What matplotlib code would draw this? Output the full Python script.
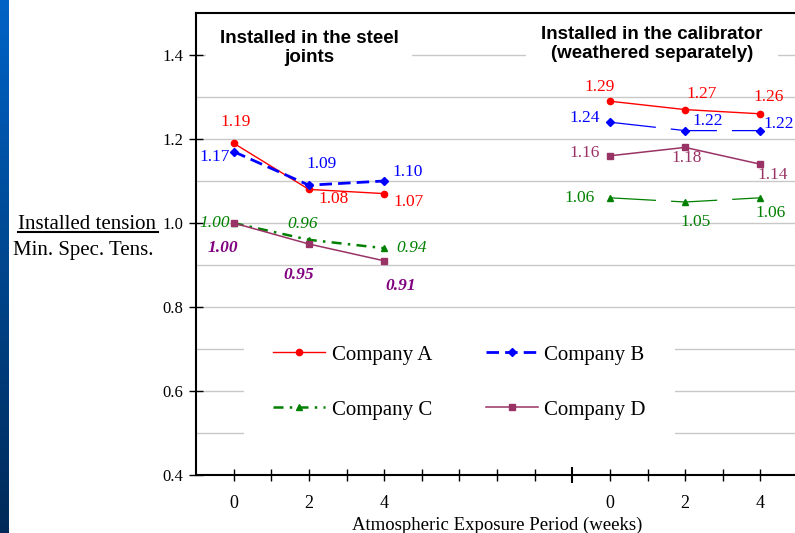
import numpy as np
import matplotlib.pyplot as plt

plt.rcParams['font.family'] = 'Liberation Serif'

# exposure period (weeks) for both groups
weeks = [0, 2, 4]
group_start = [1, 11]          # category slot of week 0 in each group

# installed in the steel joints
joint_A = [1.19, 1.08, 1.07]
joint_B = [1.17, 1.09, 1.10]
joint_C = [1.00, 0.96, 0.94]
joint_D = [1.00, 0.95, 0.91]

# installed in the calibrator (weathered separately)
calib_A = [1.29, 1.27, 1.26]
calib_B = [1.24, 1.22, 1.22]
calib_C = [1.06, 1.05, 1.06]
calib_D = [1.16, 1.18, 1.14]

companies = ['Company A', 'Company B', 'Company C', 'Company D']
yticks = [0.4, 0.6, 0.8, 1.0, 1.2, 1.4]

fig = plt.figure(figsize=(7.95, 5.33), dpi=100)

# blue slide edge on the left
bar = fig.add_axes([0, 0, 9/795, 1])
grad = np.linspace(0, 1, 256).reshape(-1, 1)
bar.imshow(grad, aspect='auto', cmap=plt.matplotlib.colors.LinearSegmentedColormap.from_list(
    'edge', ['#0063c6', '#00468e', '#002a58']))
bar.axis('off')

ax = fig.add_axes([196/795, 1 - 475/533, 602/795, 462/533])
ax.set_xlim(0, 16)
ax.set_ylim(0.4, 1.5)

xl = [w + group_start[0] for w in weeks]
xr = [w + group_start[1] for w in weeks]

# left group
lA, = ax.plot(xl, joint_A, color='#ff0000', lw=1.0, marker='o', ms=4.5, label=companies[0], zorder=4)
lB, = ax.plot(xl, joint_B, color='#0000ff', lw=2.0, ls=(0, (4.5, 2.2)), marker='D', ms=4, label=companies[1], zorder=4)
lC, = ax.plot(xl, joint_C, color='#008000', lw=1.8, ls=(0, (4, 2.5, 1, 2.5)), marker='^', ms=5, label=companies[2], zorder=4)
lD, = ax.plot(xl, joint_D, color='#993366', lw=1.1, marker='s', ms=4, label=companies[3], zorder=4)

# right group
ax.plot(xr, calib_A, color='#ff0000', lw=1.0, marker='o', ms=4.5, zorder=4)
ax.plot(xr, calib_B, color='#0000ff', lw=0.9, ls=(0, (37, 12)), marker='D', ms=4, zorder=4)
ax.plot(xr, calib_C, color='#008000', lw=0.9, ls=(0, (37, 12)), marker='^', ms=5, zorder=4)
ax.plot(xr, calib_D, color='#993366', lw=1.1, marker='s', ms=4, zorder=4)

# value labels (offsets in pixels)
def label(xs, ys, offs, color, **kw):
    for x, y, o in zip(xs, ys, offs):
        ax.annotate(f'{y:.2f}', (x, y), xytext=o, textcoords='offset pixels',
                    ha='center', va='center', color=color, fontsize=12.5, zorder=5, **kw)

label(xl, joint_A, [(2, 21), (25, -10), (24, -8)], '#ff0000')
label(xl, joint_B, [(-19, -5), (13, 21), (24, 9)], '#0000ff')
label(xl, joint_C, [(-19, 0), (-6, 16), (28, 0)], '#008000', style='italic')
label(xl, joint_D, [(-11, -25), (-10, -31), (17, -25)], '#800080', style='italic', weight='bold')

label(xr, calib_A, [(-10, 14), (17, 16), (8, 17)], '#ff0000')
label(xr, calib_B, [(-25, 4), (23, 10), (18, 7)], '#0000ff')
label(xr, calib_C, [(-30, 0), (10, -20), (10, -15)], '#008000')
label(xr, calib_D, [(-25, 3), (2, -11), (12, -11)], '#993366')

# axes styling
ax.set_yticks(yticks)
ax.set_yticklabels([f'{v:.1f}' for v in yticks])
ax.set_yticks(np.arange(0.5, 1.45, 0.1), minor=True)
ax.yaxis.grid(True, which='both', color='#c8c8c8', lw=1.0, zorder=0)
ax.set_axisbelow(True)
ax.tick_params(axis='y', which='major', direction='inout', length=10, width=1, labelsize=12, pad=4)
ax.tick_params(axis='y', which='minor', length=0)

major = [i for i in range(1, 16) if i != 10]
ax.set_xticks(major)
lab = {x: str(w) for x, w in zip(xl + xr, weeks + weeks)}
ax.set_xticklabels([lab.get(i, '') for i in major])
ax.set_xticks([10], minor=True)
ax.tick_params(axis='x', which='major', direction='inout', length=9, width=1, labelsize=13, pad=10)
ax.tick_params(axis='x', which='minor', direction='inout', length=12, width=1.5)

ax.spines['right'].set_visible(False)
for s in ['left', 'top', 'bottom']:
    ax.spines[s].set_linewidth(1.5)
    ax.spines[s].set_zorder(6)
ax.set_xlabel('Atmospheric Exposure Period (weeks)', fontsize=13.5, labelpad=3)

# group titles
ax.text(309/795, 1 - 48/533, 'Installed in the steel\njoints', transform=fig.transFigure,
        ha='center', va='center', family='Liberation Sans', weight='bold', fontsize=13.5,
        linespacing=1.2, zorder=3,
        bbox=dict(boxstyle='square,pad=0.7', fc='white', ec='none'))
ax.text(652/795, 1 - 44/533, 'Installed in the calibrator\n(weathered separately)', transform=fig.transFigure,
        ha='center', va='center', family='Liberation Sans', weight='bold', fontsize=13.5,
        linespacing=1.2, zorder=3,
        bbox=dict(boxstyle='square,pad=0.8', fc='white', ec='none'))

# y label as a fraction
fig.text(87/795, 1 - 224/533, 'Installed tension', ha='center', va='center', fontsize=15)
fig.add_artist(plt.Line2D([18/795, 158/795], [1 - 232/533] * 2, color='black', lw=1.5))
fig.text(83/795, 1 - 250/533, 'Min. Spec. Tens.', ha='center', va='center', fontsize=15)

# legend filled column by column: A, C | B, D gives rows A B / C D
leg = ax.legend(handles=[lA, lC, lB, lD], ncol=2, loc='upper left',
                bbox_to_anchor=(244/795, 1 - 316/533), bbox_transform=fig.transFigure,
                fontsize=15, frameon=True, fancybox=False, edgecolor='none', facecolor='white',
                framealpha=1, handlelength=2.5, handletextpad=0.3, columnspacing=2.6,
                labelspacing=1.7, borderpad=1.4, borderaxespad=0)
leg.set_zorder(3)

fig.savefig('out.png', dpi=100)
